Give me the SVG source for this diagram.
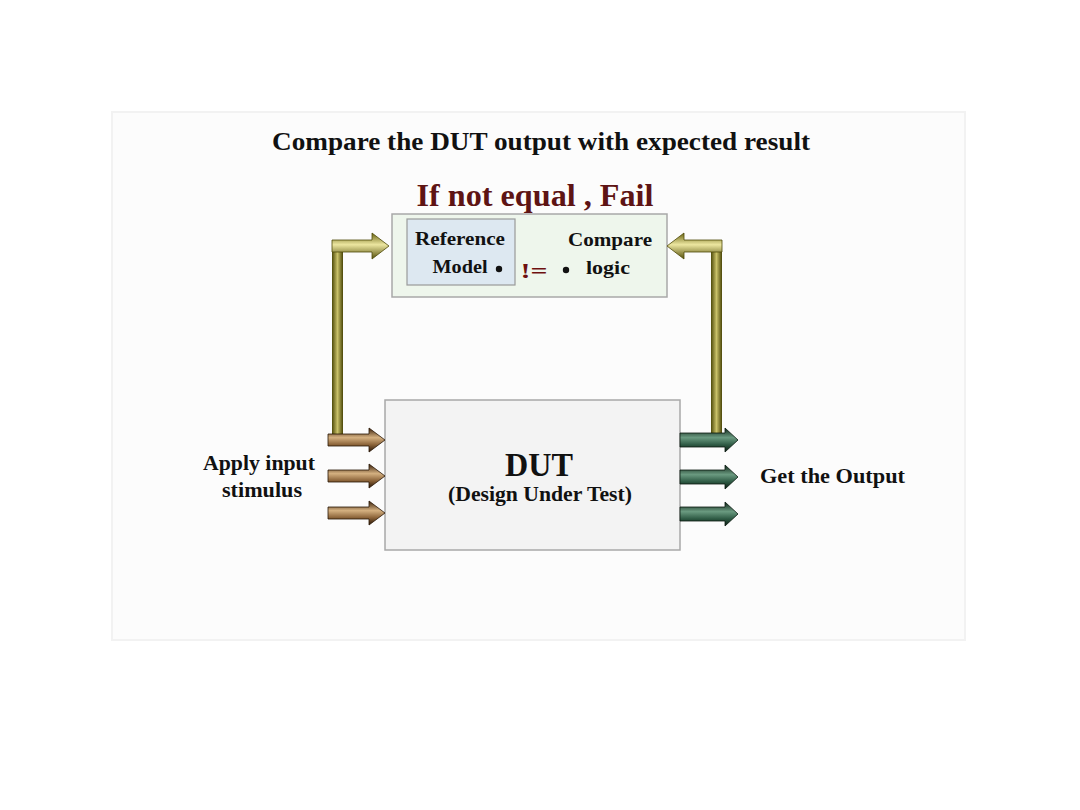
<svg xmlns="http://www.w3.org/2000/svg" width="1080" height="810" viewBox="0 0 1080 810">
<defs>
<style>
.t{font-family:"Liberation Serif","DejaVu Serif",serif;font-weight:bold;fill:#111}
.box{stroke:#a8a8a8;stroke-width:1.5}
</style>
<linearGradient id="brown" x1="0" y1="0" x2="0" y2="1">
<stop offset="0" stop-color="#3a200a"/><stop offset="0.4" stop-color="#d4b080"/><stop offset="0.7" stop-color="#8a6238"/><stop offset="1" stop-color="#2a1606"/>
</linearGradient>
<linearGradient id="green" x1="0" y1="0" x2="0" y2="1">
<stop offset="0" stop-color="#0f2417"/><stop offset="0.4" stop-color="#6a9a80"/><stop offset="0.7" stop-color="#2e5a44"/><stop offset="1" stop-color="#0a1a10"/>
</linearGradient>
<linearGradient id="oliveH" x1="0" y1="0" x2="1" y2="0">
<stop offset="0" stop-color="#4e4a08"/><stop offset="0.5" stop-color="#c9c168"/><stop offset="1" stop-color="#4a4608"/>
</linearGradient>
<linearGradient id="oliveV" x1="0" y1="0" x2="0" y2="1">
<stop offset="0" stop-color="#6a6412"/><stop offset="0.45" stop-color="#ece6a0"/><stop offset="1" stop-color="#56500a"/>
</linearGradient>
<path id="inArrow" d="M0,-6 H41 V-12 L57,0 L41,12 V6 H0 Z"/>
<path id="outArrow" d="M0,-7 H45 V-12 L58,0 L45,12 V7 H0 Z"/>
</defs>
<rect width="1080" height="810" fill="#ffffff"/>
<rect x="112" y="112" width="853" height="528" fill="#fcfcfc" stroke="#f2f2f2" stroke-width="2"/>

<g id="title">
<text class="t" x="541" y="150" font-size="25" text-anchor="middle" textLength="538" lengthAdjust="spacingAndGlyphs">Compare the DUT output with expected result</text>
</g>

<g id="fail-label">
<text class="t" x="535" y="206" font-size="31" text-anchor="middle" style="fill:#5e1414" textLength="237" lengthAdjust="spacingAndGlyphs">If not equal , Fail</text>
</g>

<g id="compare-box">
<rect class="box" x="392" y="214" width="275" height="83" fill="#eef6ec"/>
<text class="t" x="610" y="246" font-size="19" text-anchor="middle" textLength="84" lengthAdjust="spacingAndGlyphs">Compare</text>
<text class="t" x="608" y="274" font-size="19" text-anchor="middle" textLength="44" lengthAdjust="spacingAndGlyphs">logic</text>
<circle cx="566" cy="270" r="3.2" fill="#111"/>
<text class="t" x="534" y="278" font-size="20" text-anchor="middle" style="fill:#6e1010" textLength="27" lengthAdjust="spacingAndGlyphs">!=</text>
</g>

<g id="reference-model">
<rect x="407" y="219" width="108" height="66" fill="#dde8f1" stroke="#9a9a9a" stroke-width="1.2"/>
<text class="t" x="460" y="245" font-size="19" text-anchor="middle" textLength="90" lengthAdjust="spacingAndGlyphs">Reference</text>
<text class="t" x="460" y="273" font-size="19" text-anchor="middle" textLength="55" lengthAdjust="spacingAndGlyphs">Model</text>
<circle cx="499" cy="269" r="3.2" fill="#111"/>
</g>

<g id="dut">
<rect class="box" x="385" y="400" width="295" height="150" fill="#f3f3f3"/>
<text class="t" x="539" y="476" font-size="33" text-anchor="middle" textLength="68" lengthAdjust="spacingAndGlyphs">DUT</text>
<text class="t" x="540" y="501" font-size="20" text-anchor="middle" textLength="184" lengthAdjust="spacingAndGlyphs">(Design Under Test)</text>
</g>

<g id="input-label">
<text class="t" x="259" y="470" font-size="20" text-anchor="middle" textLength="112" lengthAdjust="spacingAndGlyphs">Apply input</text>
<text class="t" x="262" y="497" font-size="20" text-anchor="middle" textLength="80" lengthAdjust="spacingAndGlyphs">stimulus</text>
</g>

<g id="output-label">
<text class="t" x="760" y="483" font-size="20" textLength="145" lengthAdjust="spacingAndGlyphs">Get the Output</text>
</g>

<g id="connectors">
<rect x="332" y="246" width="11" height="188" fill="url(#oliveH)"/>
<path d="M332,240 H372 V233 L389,246 L372,259 V252 H332 Z" fill="url(#oliveV)" stroke="#4e4a08" stroke-width="0.8"/>
<rect x="711" y="246" width="11" height="188" fill="url(#oliveH)"/>
<path d="M722,240 H684 V233 L667,246 L684,259 V252 H722 Z" fill="url(#oliveV)" stroke="#4e4a08" stroke-width="0.8"/>
<use href="#inArrow" x="328" y="440" fill="url(#brown)" stroke="#2a1606" stroke-width="0.8"/>
<use href="#inArrow" x="328" y="476" fill="url(#brown)" stroke="#2a1606" stroke-width="0.8"/>
<use href="#inArrow" x="328" y="513" fill="url(#brown)" stroke="#2a1606" stroke-width="0.8"/>
<use href="#outArrow" x="680" y="440" fill="url(#green)" stroke="#0a1a10" stroke-width="0.8"/>
<use href="#outArrow" x="680" y="477" fill="url(#green)" stroke="#0a1a10" stroke-width="0.8"/>
<use href="#outArrow" x="680" y="514" fill="url(#green)" stroke="#0a1a10" stroke-width="0.8"/>
</g>
</svg>
